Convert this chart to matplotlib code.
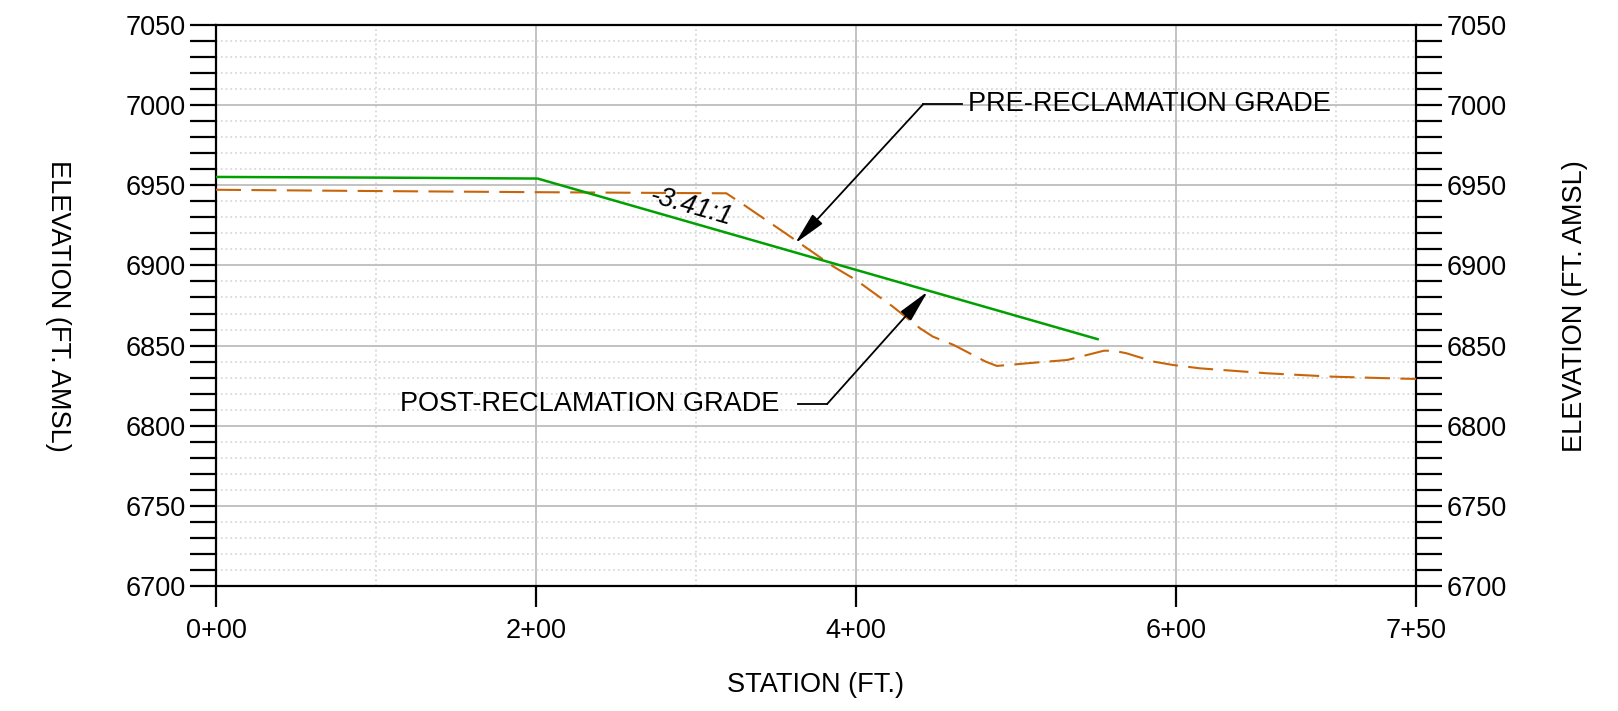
import matplotlib
matplotlib.use("Agg")
import matplotlib.pyplot as plt
from matplotlib.ticker import MultipleLocator, FixedLocator

plt.rcParams['font.family'] = ['Liberation Sans', 'DejaVu Sans']

# pre-reclamation ground (dashed)
pre_station = [0, 100, 200, 319, 330, 356, 386, 400, 423, 440, 448, 461, 481, 488,
               517, 532, 555, 561, 569, 586, 598, 615, 657, 698, 740, 750]
pre_elev = [6947.2, 6946.4, 6945.7, 6945.0, 6937.7, 6920.0, 6899.2, 6890.9, 6874.3, 6860.8,
            6855.6, 6850.4, 6840.0, 6837.3, 6839.8, 6841.0, 6846.8, 6846.8, 6845.2, 6840.0,
            6837.9, 6835.8, 6832.7, 6830.6, 6829.4, 6829.2]

# post-reclamation grade (solid)
post_station = [0, 100, 201, 551]
post_elev = [6955.2, 6954.8, 6954.2, 6854.0]

x_ticks = [0, 200, 400, 600, 750]
x_labels = ['0+00', '2+00', '4+00', '6+00', '7+50']

fs = 19.5

fig = plt.figure(figsize=(16.18, 7.11), dpi=100)
ax = fig.add_axes([216 / 1618, 1 - 586 / 711, 1200 / 1618, 561 / 711])

ax.plot(pre_station, pre_elev, color='#c8650a', lw=1.5, dashes=(12, 5), zorder=3)
ax.plot(post_station, post_elev, color='#00a000', lw=1.8, zorder=4)

ax.set_xlim(0, 750)
ax.set_ylim(6700, 7050)

ax.xaxis.set_major_locator(FixedLocator(x_ticks))
ax.set_xticklabels(x_labels)
ax.xaxis.set_minor_locator(FixedLocator([100, 300, 500, 700]))
ax.yaxis.set_major_locator(MultipleLocator(50))
ax.yaxis.set_minor_locator(MultipleLocator(10))

ax.grid(which='major', color='#bdbdbd', lw=1.3, zorder=1)
ax.grid(which='minor', color='#d9d9d9', lw=1.3, ls=':', zorder=1)
ax.set_axisbelow(True)

for s in ax.spines.values():
    s.set_linewidth(1.6)

ax.tick_params(axis='y', which='both', direction='out', length=19, width=1.6,
               left=True, right=True, labelleft=True, labelright=True, labelsize=fs, pad=3)
ax.tick_params(axis='x', which='major', direction='out', length=15, width=1.6,
               labelsize=fs, pad=8)
ax.tick_params(axis='x', which='minor', length=0)

fig.text(58 / 1618, 1 - 306 / 711, 'ELEVATION (FT. AMSL)', rotation=270,
         ha='center', va='center', fontsize=fs)
fig.text(1575 / 1618, 1 - 306 / 711, 'ELEVATION (FT. AMSL)', rotation=90,
         ha='center', va='center', fontsize=fs)
ax.set_xlabel('STATION (FT.)', fontsize=fs, labelpad=20)

# slope label
ax.text(297, 6936.5, '-3.41:1', rotation=-16, ha='center', va='center',
        fontsize=fs, style='italic', zorder=5)

arrow = dict(arrowstyle='-|>,head_length=2.0,head_width=0.42', color='black',
             lw=1.3, shrinkA=0, shrinkB=0)

# pre-reclamation leader
ax.plot([442, 466], [7000.6, 7000.6], color='black', lw=1.3, zorder=5)
ax.annotate('', xy=(362, 6913.8), xytext=(442, 7000.6), arrowprops=arrow, zorder=5)
ax.text(470, 7000.6, 'PRE-RECLAMATION GRADE', ha='left', va='center', fontsize=fs, zorder=5)

# post-reclamation leader
ax.plot([364, 382], [6813.6, 6813.6], color='black', lw=1.3, zorder=5)
ax.annotate('', xy=(444.8, 6883.7), xytext=(382, 6813.6), arrowprops=arrow, zorder=5)
ax.text(352, 6813.6, 'POST-RECLAMATION GRADE', ha='right', va='center', fontsize=fs, zorder=5)

fig.savefig('out.png', dpi=100)
